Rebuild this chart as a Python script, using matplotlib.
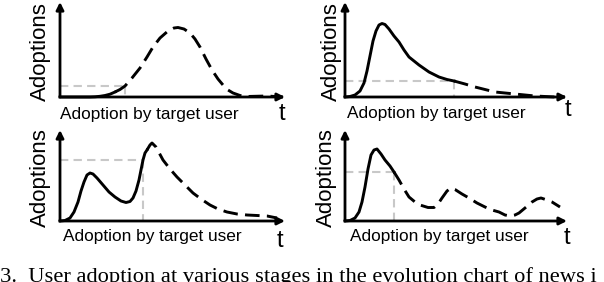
import matplotlib
matplotlib.use("Agg")
import matplotlib.pyplot as plt

W, H = 604, 282

# panel data (t, adoptions) in arbitrary units
p1_solid_t = [0, 2.0, 3.0, 3.5, 4.0, 4.5, 5.0, 5.5]
p1_solid_a = [0, 0.0, 0.0, 0.02, 0.07, 0.15, 0.28, 0.5]
p1_dash_t = [5.5, 6.0, 6.5, 7.2, 8.0, 8.7, 9.3, 10.0, 10.8, 11.4, 11.8, 12.4, 13.0, 13.5,
             14.0, 14.6, 15.2, 15.8, 16.3, 16.8, 17.3, 18.0, 18.7, 20.7, 22.3]
p1_dash_a = [0.5, 0.75, 1.1, 1.9, 2.9, 4.0, 5.0, 5.9, 6.6, 6.9, 6.95, 6.8, 6.4, 5.8,
             5.0, 3.8, 2.7, 1.8, 1.2, 0.7, 0.4, 0.15, 0.05, 0.1, 0.0]
p1_target = (6.5, 1.1)

p2_solid_t = [0, 0.5, 1.0, 1.5, 1.9, 2.2, 2.5, 2.8, 3.1, 3.4, 3.7, 4.0, 4.4, 4.9, 5.4,
              5.9, 6.4, 6.9, 7.4, 8.4, 9.4, 10.2, 10.9]
p2_solid_a = [0, 0.05, 0.2, 0.6, 1.4, 2.6, 4.1, 5.6, 6.6, 7.2, 7.35, 7.25, 6.8, 6.1, 5.5,
              4.7, 4.0, 3.6, 3.2, 2.5, 2.0, 1.75, 1.6]
p2_dash_t = [10.9, 12.0, 13.0, 14.0, 15.0, 16.0, 17.0, 19.0, 21.0, 22.0]
p2_dash_a = [1.6, 1.3, 1.0, 0.75, 0.5, 0.4, 0.3, 0.1, 0.0, 0.0]
p2_target = (10.9, 1.6)

p3_solid_t = [0, 0.5, 1.0, 1.4, 1.8, 2.1, 2.4, 2.7, 3.0, 3.3, 3.7, 4.3, 4.9, 5.5, 6.1,
              6.6, 7.0, 7.3, 7.6, 7.9, 8.1, 8.3, 8.5, 8.7]
p3_solid_a = [0, 0.05, 0.3, 0.9, 1.9, 3.0, 3.9, 4.6, 4.8, 4.7, 4.3, 3.6, 2.9, 2.4, 2.0,
              1.85, 1.95, 2.3, 3.0, 4.1, 5.1, 6.1, 6.8, 7.1]
p3_dash_t = [8.7, 9.0, 9.2, 9.6, 10.3, 11.0, 11.7, 12.5, 13.3, 14.1, 15.0, 15.8, 16.7,
             17.7, 18.7, 20.7, 21.7]
p3_dash_a = [7.1, 7.6, 7.8, 7.4, 6.1, 5.2, 4.4, 3.6, 2.8, 2.2, 1.6, 1.2, 0.9,
             0.7, 0.6, 0.5, 0.3]
p3_target = (8.3, 6.1)

p4_solid_t = [0, 0.5, 1.0, 1.4, 1.7, 2.0, 2.3, 2.6, 2.9, 3.2, 3.6, 4.0, 4.5, 4.9]
p4_solid_a = [0, 0.05, 0.3, 0.9, 1.9, 3.4, 5.2, 6.6, 7.1, 7.2, 6.7, 6.1, 5.5, 4.9]
p4_dash_t = [4.9, 5.4, 5.9, 6.4, 7.0, 7.5, 8.3, 8.9, 9.3, 9.7, 10.2, 10.6, 11.0, 11.7,
             12.4, 13.2, 14.0, 14.7, 15.4, 16.0, 16.5, 17.0, 17.4, 18.0, 18.7, 19.2,
             19.6, 20.2, 20.7, 21.5]
p4_dash_a = [4.9, 4.1, 3.2, 2.4, 1.9, 1.6, 1.35, 1.35, 1.7, 2.3, 3.0, 3.3, 3.15, 2.7,
             2.3, 1.8, 1.4, 1.1, 0.9, 0.6, 0.5, 0.6, 0.8, 1.3, 1.9, 2.2,
             2.3, 2.1, 1.9, 1.4]
p4_target = (4.9, 4.9)

ylabel = "Adoptions"
xlabel = "Adoption by target user"
caption = "3.  User adoption at various stages in the evolution chart of news i"

# pixel layout: origin x, origin y, x length, y length
panels = [
    dict(org=(60, 97), size=(225, 95), solid=(p1_solid_t, p1_solid_a), dash=(p1_dash_t, p1_dash_a),
         target=p1_target, ylab=(40, 52), xlab=(60, 115), tlab=(282, 114)),
    dict(org=(345, 97), size=(222, 95), solid=(p2_solid_t, p2_solid_a), dash=(p2_dash_t, p2_dash_a),
         target=p2_target, ylab=(331, 52), xlab=(347, 113), tlab=(568, 110)),
    dict(org=(60, 221), size=(225, 91), solid=(p3_solid_t, p3_solid_a), dash=(p3_dash_t, p3_dash_a),
         target=p3_target, ylab=(40, 178), xlab=(63, 236), tlab=(280, 241)),
    dict(org=(345, 221), size=(222, 91), solid=(p4_solid_t, p4_solid_a), dash=(p4_dash_t, p4_dash_a),
         target=p4_target, ylab=(326, 178), xlab=(350, 236), tlab=(567, 238)),
]

plt.rcParams['font.family'] = ['Liberation Sans', 'DejaVu Sans']
fig = plt.figure(figsize=(W / 100, H / 100), dpi=100)

def fx(px):
    return px / W

def fy(py):
    return 1 - py / H

for p in panels:
    ox, oy = p['org']
    sw, sh = p['size']
    ax = fig.add_axes([fx(ox), fy(oy), sw / W, sh / H])
    ax.set_xlim(0, sw / 10)
    ax.set_ylim(0, sh / 10)
    ax.axis('off')

    # gray guide to the target user's adoption point
    tx, ta = p['target']
    ax.plot([0, tx], [ta, ta], color='#c8c8c8', lw=1.5, dashes=(4, 2.5), clip_on=False)
    ax.plot([tx, tx], [ta, 0], color='#c8c8c8', lw=1.5, dashes=(4, 2.5), clip_on=False)

    ax.plot(*p['solid'], color='black', lw=2.1, solid_joinstyle='round', clip_on=False)
    ax.plot(*p['dash'], color='black', lw=2.1, dashes=(5, 2.5), dash_joinstyle='round', clip_on=False)

    arrow = dict(arrowstyle='-|>', lw=2.0, color='black', mutation_scale=11, shrinkA=0, shrinkB=0)
    ax.annotate('', xy=(1, 0), xytext=(0, 0), xycoords='axes fraction', arrowprops=arrow)
    ax.annotate('', xy=(0, 1), xytext=(0, 0), xycoords='axes fraction', arrowprops=arrow)

    yx, yy = p['ylab']
    fig.text(fx(yx), fy(yy), ylabel, rotation=90, fontsize=16, ha='center', va='center')
    lx, ly = p['xlab']
    fig.text(fx(lx), fy(ly), xlabel, fontsize=12.4, ha='left', va='center')
    tx_, ty_ = p['tlab']
    fig.text(fx(tx_), fy(ty_), 't', fontsize=17, ha='center', va='center')

fig.text(fx(0), fy(282), caption, family='Liberation Serif', fontsize=16.2, ha='left', va='baseline')

fig.savefig('out.png', dpi=100)
